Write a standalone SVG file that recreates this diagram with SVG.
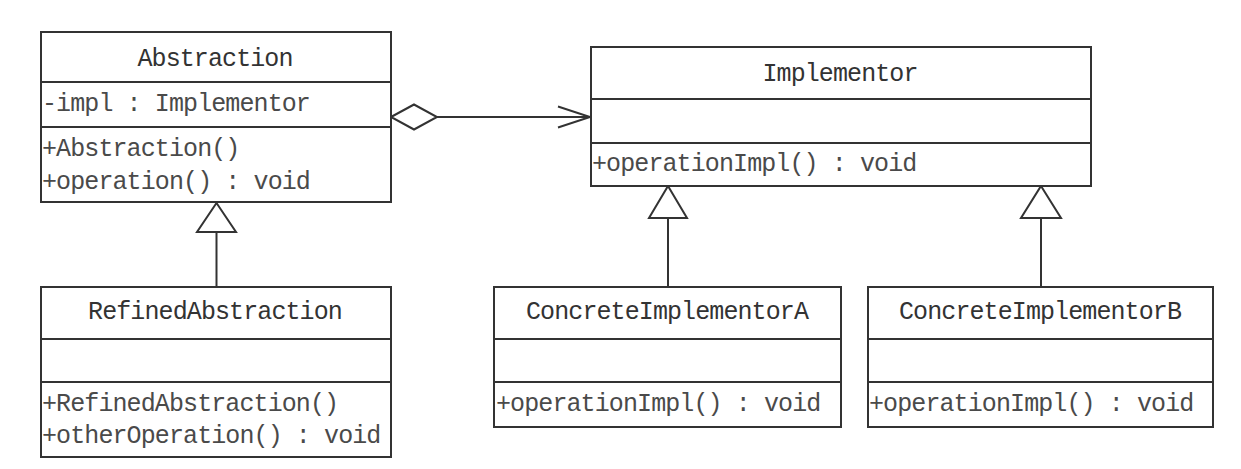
<svg xmlns="http://www.w3.org/2000/svg" width="1241" height="469" viewBox="0 0 1241 469">
<style>
.box{fill:#fff;stroke:#333;stroke-width:2}
.div{stroke:#333;stroke-width:2}
.t{font-family:"Liberation Mono","DejaVu Sans Mono",monospace;font-size:25px;fill:#333;text-anchor:middle;letter-spacing:-0.9px}
.m{font-family:"Liberation Mono","DejaVu Sans Mono",monospace;font-size:25px;fill:#4a4a4a;letter-spacing:-0.9px}
.ln{fill:none;stroke:#333;stroke-width:2}
.hd{fill:#fff;stroke:#333;stroke-width:2}
</style>
<rect width="1241" height="469" fill="#fff"/>
<g id="connectors">
  <line class="ln" x1="437" y1="117" x2="590" y2="117"/>
  <path class="hd" d="M391,117 L414,104.5 L437,117 L414,129.5 Z"/>
  <path class="ln" d="M558,106.5 L590,117 L558,127.5"/>
  <line class="ln" x1="216.5" y1="232" x2="216.5" y2="287"/>
  <path class="hd" d="M216.5,203 L236,232 L197,232 Z"/>
  <line class="ln" x1="668" y1="218" x2="668" y2="287"/>
  <path class="hd" d="M668,186 L687,218 L649,218 Z"/>
  <line class="ln" x1="1041" y1="218" x2="1041" y2="287"/>
  <path class="hd" d="M1041,186 L1061,218 L1021,218 Z"/>
</g>
<g id="Abstraction">
  <rect class="box" x="41" y="32" width="350" height="170"/>
  <line class="div" x1="41" y1="82" x2="391" y2="82"/>
  <line class="div" x1="41" y1="127" x2="391" y2="127"/>
  <text class="t" x="215" y="66">Abstraction</text>
  <text class="m" x="42" y="111">-impl : Implementor</text>
  <text class="m" x="42" y="156">+Abstraction()</text>
  <text class="m" x="42" y="189">+operation() : void</text>
</g>
<g id="Implementor">
  <rect class="box" x="591" y="47" width="500" height="139"/>
  <line class="div" x1="591" y1="99" x2="1091" y2="99"/>
  <line class="div" x1="591" y1="143" x2="1091" y2="143"/>
  <text class="t" x="840" y="81">Implementor</text>
  <text class="m" x="592" y="171">+operationImpl() : void</text>
</g>
<g id="RefinedAbstraction">
  <rect class="box" x="41" y="287" width="350" height="170"/>
  <line class="div" x1="41" y1="339" x2="391" y2="339"/>
  <line class="div" x1="41" y1="382" x2="391" y2="382"/>
  <text class="t" x="215" y="319">RefinedAbstraction</text>
  <text class="m" x="42" y="411">+RefinedAbstraction()</text>
  <text class="m" x="42" y="443">+otherOperation() : void</text>
</g>
<g id="ConcreteImplementorA">
  <rect class="box" x="494" y="287" width="347" height="140"/>
  <line class="div" x1="494" y1="339" x2="841" y2="339"/>
  <line class="div" x1="494" y1="382" x2="841" y2="382"/>
  <text class="t" x="667" y="319">ConcreteImplementorA</text>
  <text class="m" x="496" y="411">+operationImpl() : void</text>
</g>
<g id="ConcreteImplementorB">
  <rect class="box" x="868" y="287" width="345" height="140"/>
  <line class="div" x1="868" y1="339" x2="1213" y2="339"/>
  <line class="div" x1="868" y1="382" x2="1213" y2="382"/>
  <text class="t" x="1040" y="319">ConcreteImplementorB</text>
  <text class="m" x="869" y="411">+operationImpl() : void</text>
</g>
</svg>
